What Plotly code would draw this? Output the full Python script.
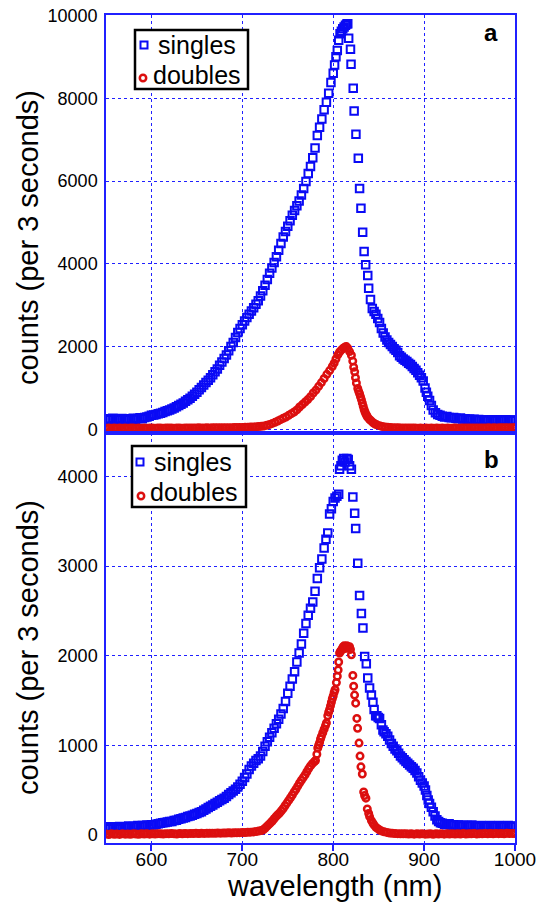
import plotly.graph_objects as go

# ---------------- data, (wavelength nm, counts) ----------------
singles_a_pts = [
    (550, 260), (552.5, 230), (555, 250), (557.5, 270), (560, 240), (562.5, 255), (565, 230), (567.5, 265),
    (570, 245), (572.5, 230), (575, 260), (577.5, 250), (580, 270), (582.5, 240), (585, 265), (587.5, 280),
    (590, 260), (592.5, 290), (595, 300), (597.5, 320),
    (600, 340), (602.5, 350), (605, 360), (607.5, 375), (610, 390), (612.5, 410), (615, 430), (617.5, 450),
    (620, 470), (622.5, 490), (625, 515), (627.5, 545), (630, 575), (632.5, 605), (635, 640), (637.5, 680),
    (640, 715), (642.5, 750), (645, 800), (647.5, 850), (650, 900), (652.5, 960), (655, 1010), (657.5, 1070),
    (660, 1130), (662.5, 1190), (665, 1250), (667.5, 1320), (670, 1390), (672.5, 1460), (675, 1550),
    (677.5, 1630), (680, 1710), (682.5, 1800), (685, 1900), (687.5, 2000), (690, 2100), (692.5, 2220),
    (695, 2340), (697.5, 2440), (700, 2530), (702.5, 2620), (705, 2700), (707.5, 2780), (710, 2860),
    (712.5, 2940), (715, 3020), (717.5, 3110), (720, 3220), (722.5, 3350), (725, 3480), (727.5, 3620),
    (730, 3770), (732.5, 3900), (735, 4030), (737.5, 4170), (740, 4330), (742.5, 4490), (745, 4650),
    (747.5, 4780), (750, 4910), (752.5, 5040), (755, 5170), (757.5, 5290), (760, 5400), (762.5, 5520),
    (765, 5660), (767.5, 5820), (770, 5990), (772.5, 6180), (775, 6350), (777.5, 6560), (780, 6800),
    (782.5, 7100), (785, 7300), (787.5, 7500), (790, 7720), (792.5, 7900), (795, 8120), (797.5, 8380),
    (800, 8600), (801.5, 8800), (803, 9000), (804.5, 9150), (806, 9400), (807.5, 9560), (809, 9620),
    (810.5, 9680), (812, 9720), (813.5, 9760), (815, 9790), (816, 9800),
    (817, 9450), (819, 9180), (819.6, 8820), (822, 8240), (823, 7690), (825, 7130), (827.6, 6550),
    (829, 5820), (830.5, 5340), (832.4, 4760), (834, 4300), (835.7, 3980), (838, 3720), (839, 3410),
    (841, 3140), (843, 2920), (845, 2850), (847, 2780), (849, 2680), (851, 2580), (853, 2440), (855, 2330),
    (857, 2230), (859, 2160), (861, 2100), (863, 2050), (865, 2000), (867, 1950), (869, 1910), (871, 1860),
    (873, 1780), (875, 1740), (877, 1700), (879, 1670), (881, 1640), (883, 1600), (885, 1570), (887, 1520),
    (889, 1470), (891, 1430), (893, 1370), (895, 1310), (897, 1250), (899, 1170), (901, 1000), (902.5, 900),
    (904, 800), (906, 700), (908, 580),
    (910, 470), (912.5, 400), (915, 360), (917.5, 340), (920, 320), (922.5, 300), (925, 310), (927.5, 290),
    (930, 280), (932.5, 290), (935, 270), (937.5, 260), (940, 275), (942.5, 250), (945, 260), (947.5, 240),
    (950, 250), (952.5, 235), (955, 245), (957.5, 225), (960, 240), (962.5, 220), (965, 235), (967.5, 215),
    (970, 230), (972.5, 220), (975, 235), (977.5, 215), (980, 225), (982.5, 210), (985, 230), (987.5, 220),
    (990, 235), (992.5, 215), (995, 225), (997.5, 210), (1000, 225),
]

doubles_a_pts = [
    (550, 30), (553, 35), (556, 28), (559, 32), (562, 30), (565, 36), (568, 30), (571, 33), (574, 28),
    (577, 35), (580, 31), (583, 30), (586, 34), (589, 29), (592, 33), (595, 30), (598, 35), (601, 31),
    (604, 29), (607, 34), (610, 32), (613, 30), (616, 36), (619, 31), (622, 33), (625, 30), (628, 35),
    (631, 32), (634, 30), (637, 34), (640, 36), (643, 31), (646, 35), (649, 33), (652, 37), (655, 34),
    (658, 36), (661, 38), (664, 35), (667, 39), (670, 37), (673, 40), (676, 38), (679, 41), (682, 40),
    (685, 42), (688, 41), (691, 44), (694, 43), (697, 46), (700, 47), (703, 50), (706, 52), (709, 55),
    (712, 58), (715, 62), (718, 67), (721, 74), (724, 85), (727, 100), (730, 120), (733, 145), (736, 170),
    (739, 200), (742, 235), (745, 270), (748, 300), (751, 340), (754, 380), (757, 420), (760, 470),
    (763, 540), (766, 600), (769, 660), (772, 720), (775, 790), (778, 880), (781, 950), (784, 1040),
    (787, 1130), (790, 1230), (793, 1330), (796, 1420), (799, 1520), (801, 1600), (803, 1700), (805, 1800),
    (807, 1870), (809, 1920), (811, 1960), (813, 1990), (814.5, 2000), (816, 1960), (818, 1880), (820, 1790),
    (821.5, 1650), (822.5, 1500), (823.6, 1390), (824.5, 1250), (825.5, 1120), (827, 990), (828, 920),
    (829, 860), (830, 790), (831, 720), (832, 640), (833, 560), (834, 480), (835, 420), (836, 370),
    (837, 330), (838, 290), (840, 240), (842, 200), (844, 160), (846, 130), (848, 110), (851, 90),
    (854, 70), (857, 58), (860, 50), (863, 45), (866, 42),
    (869, 40), (872, 38), (875, 36), (878, 35), (881, 34), (884, 33), (887, 32), (890, 31), (893, 30),
    (896, 32), (899, 29), (902, 31), (905, 30), (908, 33), (911, 29), (914, 31), (917, 30), (920, 32),
    (923, 29), (926, 33), (929, 30), (932, 31), (935, 34), (938, 30), (941, 33), (944, 31), (947, 35),
    (950, 32), (953, 34), (956, 31), (959, 35), (962, 33), (965, 36), (968, 34), (971, 37), (974, 35),
    (977, 38), (980, 36), (983, 39), (986, 37), (989, 40), (992, 38), (995, 41), (998, 40), (1000, 42),
]

singles_b_pts = [
    (550, 80), (552.5, 70), (555, 90), (557.5, 75), (560, 85), (562.5, 70), (565, 95), (567.5, 80),
    (570, 90), (572.5, 85), (575, 100), (577.5, 85), (580, 95), (582.5, 90), (585, 105), (587.5, 95),
    (590, 105), (592.5, 100), (595, 110), (597.5, 105), (600, 115), (602.5, 110), (605, 120), (607.5, 125),
    (610, 130), (612.5, 135), (615, 140), (617.5, 145), (620, 150), (622.5, 150), (625, 160), (627.5, 165),
    (630, 175), (632.5, 180), (635, 190), (637.5, 195), (640, 205), (642.5, 210), (645, 220), (647.5, 230),
    (650, 240), (652.5, 250), (655, 260), (657.5, 275), (660, 290), (662.5, 305), (665, 320), (667.5, 335),
    (670, 350), (672.5, 365), (675, 380), (677.5, 395), (680, 410), (682.5, 430), (685, 450), (687.5, 470),
    (690, 490), (692.5, 510), (695, 535), (697.5, 565), (700, 600), (702.5, 640), (705, 680), (707.5, 730),
    (710, 770), (712.5, 800), (715, 830), (717.5, 850), (720, 880), (722.5, 930), (725, 990), (727.5, 1040),
    (730, 1090), (732.5, 1140), (735, 1190), (737.5, 1240), (740, 1290), (742.5, 1350), (745, 1410),
    (747.5, 1490), (750, 1580), (752.5, 1660), (755, 1740), (757.5, 1820), (760, 1930), (762.5, 2030),
    (765, 2130), (767.5, 2250), (770, 2360), (772.5, 2450), (775, 2530), (777.5, 2600), (780, 2720),
    (782.5, 2860), (785, 2980), (787.5, 3080), (790, 3200), (792, 3300), (794, 3370), (796, 3580),
    (798, 3640), (800, 3720), (802, 3760), (804, 3780), (806, 3800), (807, 4080), (808.5, 4120),
    (810, 4180), (811.5, 4200), (813, 4160), (815, 4200), (816.5, 4190), (818, 4120), (820, 4080),
    (821.6, 3770), (823.6, 3590), (824.7, 3420), (827, 3030), (829, 2670), (831, 2470), (832.7, 2310),
    (834.6, 1990), (836.4, 1910), (838, 1750), (840, 1640), (842, 1560), (843.7, 1480), (845, 1400),
    (846.7, 1330), (848, 1330), (849.5, 1310), (851, 1300), (853, 1230), (854.7, 1170), (856, 1150),
    (858, 1130), (860, 1100), (862, 1060), (864, 1020), (866, 990), (868, 960), (870, 940), (872, 910),
    (874, 880), (876, 860), (878, 840), (880, 820), (882, 800), (884, 780), (886, 760), (888, 745),
    (890, 720), (892, 690), (894, 650), (896, 610), (898, 580), (900, 545), (901.5, 500), (903, 440),
    (904.5, 390), (906, 350), (908, 310), (910, 260), (912, 210), (914, 170), (916, 150), (918, 135),
    (920, 130), (922.5, 120), (925, 115), (927.5, 125), (930, 110), (932.5, 115), (935, 105), (937.5, 110),
    (940, 100), (942.5, 110), (945, 95), (947.5, 105), (950, 100), (952.5, 110), (955, 95), (957.5, 100),
    (960, 90), (962.5, 105), (965, 95), (967.5, 100), (970, 90), (972.5, 105), (975, 95), (977.5, 100),
    (980, 95), (982.5, 105), (985, 90), (987.5, 100), (990, 95), (992.5, 105), (995, 95), (997.5, 100),
    (1000, 95),
]

doubles_b_pts = [
    (550, 10), (553, 5), (556, 12), (559, 8), (562, 10), (565, 6), (568, 12), (571, 9), (574, 11), (577, 7),
    (580, 12), (583, 10), (586, 8), (589, 13), (592, 10), (595, 12), (598, 9), (601, 13), (604, 11),
    (607, 14), (610, 12), (613, 10), (616, 14), (619, 12), (622, 15), (625, 13), (628, 11), (631, 15),
    (634, 13), (637, 16), (640, 14), (643, 17), (646, 15), (649, 18), (652, 16), (655, 18), (658, 17),
    (661, 19), (664, 18), (667, 20), (670, 19), (673, 21), (676, 20), (679, 22), (682, 21), (685, 23),
    (688, 22), (691, 24), (694, 23), (697, 25), (700, 26), (703, 27), (706, 29), (709, 31), (712, 34),
    (715, 38), (718, 43), (721, 50), (723, 58), (725, 75), (727, 95), (729, 115), (731, 135), (733, 155),
    (735, 180), (737, 205), (739, 225), (741, 245), (743, 270), (745, 295), (747, 325), (749, 355),
    (751, 385), (753, 415), (755, 445), (757, 480), (759, 510), (761, 545), (763, 580), (765, 610),
    (767, 640), (769, 670), (771, 705), (773, 740), (775, 770), (777, 795), (779, 815), (780.5, 830),
    (782, 900), (783, 970), (784, 1000), (785, 1030), (786, 1070), (787, 1100), (788.5, 1140), (790, 1180),
    (791.5, 1220), (792.5, 1250), (794, 1330), (795, 1370), (796, 1400), (797, 1440), (798, 1480),
    (799, 1520), (800, 1550), (801, 1590), (802, 1620), (803.5, 1700), (804.5, 1770), (805.4, 1840),
    (806, 1930), (807, 2030), (808, 2050), (809, 2060), (810, 2080), (811, 2100), (812, 2110), (813, 2080),
    (814, 2090), (815, 2110), (816.5, 2100), (818, 2100), (819, 2070), (820, 2010), (821.6, 1780),
    (822.5, 1660), (823.5, 1560), (824.7, 1470), (826, 1300), (826.8, 1190), (828.4, 1025), (829.5, 880),
    (830.5, 760), (832, 680), (833.5, 480), (834.5, 440), (836, 410), (837.5, 290), (839, 240), (840, 205),
    (842, 160), (843.7, 130), (845, 110), (847, 85), (849, 70), (851, 55), (853, 45), (856, 35), (859, 28),
    (862, 22), (865, 18), (868, 15), (871, 14), (874, 12), (877, 13),
    (880, 12), (883, 10), (886, 13), (889, 9), (892, 12), (895, 10), (898, 14), (901, 9), (904, 11),
    (907, 13), (910, 8), (913, 12), (916, 10), (919, 14), (922, 9), (925, 12), (928, 11), (931, 14),
    (934, 10), (937, 13), (940, 11), (943, 15), (946, 10), (949, 13), (952, 12), (955, 15), (958, 11),
    (961, 14), (964, 12), (967, 16), (970, 13), (973, 15), (976, 12), (979, 17), (982, 14), (985, 16),
    (988, 13), (991, 18), (994, 15), (997, 17), (1000, 16),
]

wl_singles_a = [p[0] for p in singles_a_pts]
singles_a = [p[1] for p in singles_a_pts]
wl_doubles_a = [p[0] for p in doubles_a_pts]
doubles_a = [p[1] for p in doubles_a_pts]
wl_singles_b = [p[0] for p in singles_b_pts]
singles_b = [p[1] for p in singles_b_pts]
wl_doubles_b = [p[0] for p in doubles_b_pts]
doubles_b = [p[1] for p in doubles_b_pts]

series_names = ["singles", "doubles"]
panel_labels = ["a", "b"]
x_ticks = [600, 700, 800, 900, 1000]
y_ticks_a = [0, 2000, 4000, 6000, 8000, 10000]
y_ticks_b = [0, 1000, 2000, 3000, 4000]

# ---------------- styling ----------------
BLUE = "#0a0af5"
RED = "#dc0f0f"
AXIS = "#2020ff"
GRID = "#2020ff"
FONT = "Liberation Sans, Arial, Helvetica, sans-serif"

sq = dict(symbol="square-open", size=7.5, color=BLUE, line=dict(width=2, color=BLUE))
ci = dict(symbol="circle-open", size=6.5, color=RED, line=dict(width=2.5, color=RED))

fig = go.Figure()
fig.add_trace(go.Scatter(x=wl_singles_a, y=singles_a, mode="markers", name=series_names[0],
                         marker=sq, xaxis="x", yaxis="y", showlegend=False))
fig.add_trace(go.Scatter(x=wl_doubles_a, y=doubles_a, mode="markers", name=series_names[1],
                         marker=ci, xaxis="x", yaxis="y", showlegend=False))
fig.add_trace(go.Scatter(x=wl_singles_b, y=singles_b, mode="markers", name=series_names[0],
                         marker=sq, xaxis="x2", yaxis="y2", showlegend=False))
fig.add_trace(go.Scatter(x=wl_doubles_b, y=doubles_b, mode="markers", name=series_names[1],
                         marker=ci, xaxis="x2", yaxis="y2", showlegend=False))

# The page's body margin is removed (post_script below), so the figure fills the window.
WIN_W, WIN_H = 558, 907
PLOT_L, PLOT_R, PLOT_T, PLOT_B = 106, 515, 15, 843     # plot area in window pixels
W, H = WIN_W, WIN_H
ML, MR, MT, MB = PLOT_L, WIN_W - PLOT_R, PLOT_T, WIN_H - PLOT_B
PW, PH = PLOT_R - PLOT_L, PLOT_B - PLOT_T
split = (PLOT_B - 432.5) / PH


def px_x(p):
    return (p - PLOT_L) / PW


def px_y(p):
    return (PLOT_B - p) / PH


common_x = dict(range=[550, 1000], showgrid=True, gridcolor=GRID, griddash="dot", gridwidth=1,
                showline=True, linecolor=AXIS, linewidth=1.5, mirror=True, zeroline=False,
                automargin=False, tickvals=x_ticks,
                tickfont=dict(family=FONT, size=19, color="black"))
common_y = dict(showgrid=True, gridcolor=GRID, griddash="dot", gridwidth=1,
                showline=True, linecolor=AXIS, linewidth=1.5, mirror=True, zeroline=False,
                automargin=False, ticks="", tickformat="d", ticklabelstandoff=3,
                ticklabeloverflow="allow",
                tickfont=dict(family=FONT, size=18, color="black"))

# ---- legend boxes (one per panel), drawn as framed keys with text ----
LEG_FONT = dict(family=FONT, size=25, color="black")
legend_boxes = [
    # box (x0, y0, x1, y1), square key centre, singles text (x, y), circle key centre, doubles text (x, y)
    dict(box=(135, 30, 248, 89), sq=(144, 45), t1=(156, 45), ci=(143, 78), t2=(151, 75)),
    dict(box=(132, 446, 246, 507), sq=(140, 462), t1=(152, 462), ci=(141, 496), t2=(148, 492)),
]
shapes = []
annotations = []
for lb in legend_boxes:
    x0, y0, x1, y1 = lb["box"]
    shapes.append(dict(type="rect", xref="paper", yref="paper", x0=px_x(x0), x1=px_x(x1),
                       y0=px_y(y1), y1=px_y(y0), line=dict(color="black", width=2.5),
                       fillcolor="white", layer="above"))
    sx, sy = lb["sq"]
    shapes.append(dict(type="rect", xref="paper", yref="paper", x0=px_x(sx - 3.5), x1=px_x(sx + 3.5),
                       y0=px_y(sy + 3.5), y1=px_y(sy - 3.5), line=dict(color=BLUE, width=2),
                       fillcolor="rgba(0,0,0,0)", layer="above"))
    cx, cy = lb["ci"]
    shapes.append(dict(type="circle", xref="paper", yref="paper", x0=px_x(cx - 3.2), x1=px_x(cx + 3.2),
                       y0=px_y(cy + 3.2), y1=px_y(cy - 3.2), line=dict(color=RED, width=2.5),
                       fillcolor="rgba(0,0,0,0)", layer="above"))
    for name, key in zip(series_names, ("t1", "t2")):
        tx, ty = lb[key]
        annotations.append(dict(text=name, xref="paper", yref="paper", x=px_x(tx), y=px_y(ty),
                                showarrow=False, font=LEG_FONT, xanchor="left", yanchor="middle"))

for lab, (lx, ly) in zip(panel_labels, [(491, 33), (491, 460)]):
    annotations.append(dict(text=lab, xref="paper", yref="paper", x=px_x(lx), y=px_y(ly),
                            showarrow=False, font=dict(family=FONT, size=24, color="black", weight="bold"),
                            xanchor="center", yanchor="middle"))
for cy in (238, 648):
    annotations.append(dict(text="counts (per 3 seconds)", xref="paper", yref="paper", x=px_x(28),
                            y=px_y(cy), textangle=-90, showarrow=False,
                            font=dict(family=FONT, size=29, color="black"),
                            xanchor="center", yanchor="middle"))
annotations.append(dict(text="wavelength (nm)", xref="paper", yref="paper", x=px_x(334), y=px_y(886),
                        showarrow=False, font=dict(family=FONT, size=29, color="black"),
                        xanchor="center", yanchor="middle"))

fig.update_layout(
    width=W, height=H,
    margin=dict(l=ML, r=MR, t=MT, b=MB, autoexpand=False),
    paper_bgcolor="white", plot_bgcolor="white",
    showlegend=False,
    xaxis=dict(common_x, domain=[0, 1], anchor="y", showticklabels=False, ticks=""),
    yaxis=dict(common_y, domain=[split, 1], anchor="x", range=[-75, 10010], tickvals=y_ticks_a),
    xaxis2=dict(common_x, domain=[0, 1], anchor="y2", ticks="outside", ticklen=6, tickcolor=AXIS,
                tickwidth=1.5, ticklabelstandoff=-8),
    yaxis2=dict(common_y, domain=[0, split], anchor="x2", range=[-90, 4490], tickvals=y_ticks_b),
    shapes=shapes,
    annotations=annotations,
)

fig.write_html("out.html", config={"displayModeBar": False},
               post_script="document.body.style.margin='0px';document.body.style.overflow='hidden';")
